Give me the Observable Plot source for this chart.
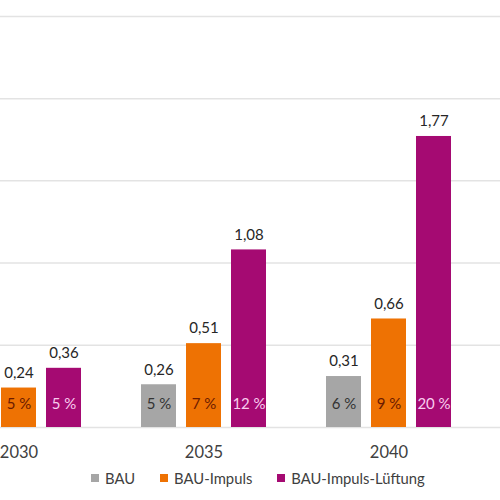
<!DOCTYPE html>
<html>
<head>
<meta charset="utf-8">
<script src="https://cdn.jsdelivr.net/npm/d3@7"></script>
<script src="https://cdn.jsdelivr.net/npm/@observablehq/plot@0.6"></script>
<style>
  html, body { margin: 0; padding: 0; background: #fff; }
  #wrap { position: relative; width: 500px; height: 500px; overflow: hidden; font-family: Lato, "Open Sans", sans-serif; }
  #wrap svg { position: absolute; left: 0; top: 0; }
  #legend { position: absolute; left: 91px; top: 469px; display: flex; align-items: center; font-size: 14.8px; color: #404040; }
  #legend .item { display: flex; align-items: center; margin-right: 25px; }
  #legend .sw { width: 8px; height: 8px; margin-right: 6px; }
</style>
</head>
<body>
<div id="wrap"></div>
<script>
// Years shown on the axis
const years = ["2030", "2035", "2040"];
// Scenario series
const series = ["BAU", "BAU-Impuls", "BAU-Impuls-Lüftung"];
const colors = ["#a6a6a6", "#ee7203", "#a50a72"];
const inkInside = ["#333333", "#6b1a00", "#f9cdef"];

// Values per series (index matches years; null = outside the visible area)
const bauValues = [null, 0.26, 0.31];
const impulsValues = [0.24, 0.51, 0.66];
const lueftungValues = [0.36, 1.08, 1.77];

// Share labels per series
const bauShare = [null, "5 %", "6 %"];
const impulsShare = ["5 %", "7 %", "9 %"];
const lueftungShare = ["5 %", "12 %", "20 %"];

const gridValues = [0, 0.5, 1, 1.5, 2, 2.5];

const valueSets = [bauValues, impulsValues, lueftungValues];
const shareSets = [bauShare, impulsShare, lueftungShare];

const fmt = v => v.toFixed(2).replace(".", ",");

const barW = 35, groupStep = 45, band = 185;
const inset = (band - barW) / 2;

const marks = [
  Plot.ruleY(gridValues, {stroke: "#e3e3e3", strokeWidth: 1.5})
];

series.forEach((s, k) => {
  const rows = years
    .map((year, i) => ({year, value: valueSets[k][i], share: shareSets[k][i]}))
    .filter(d => d.value != null);
  const dx = (k - 1) * groupStep;
  marks.push(
    Plot.barY(rows, {x: "year", y: "value", fill: colors[k], dx, insetLeft: inset, insetRight: inset}),
    Plot.text(rows, {x: "year", y: "value", text: d => fmt(d.value), dx, dy: -15, fill: "#262626", fontSize: 15}),
    Plot.text(rows, {x: "year", y: () => 0, text: "share", dx, dy: -23, fill: inkInside[k], fontSize: 15})
  );
});

marks.push(
  Plot.text(years, {x: d => d, y: () => 0, text: d => d, dy: 25, fill: "#404040", fontSize: 16.5})
);

const chart = Plot.plot({
  width: 500,
  height: 466,
  margin: 0,
  style: {fontFamily: "Lato, 'Open Sans', sans-serif", background: "transparent", overflow: "hidden"},
  x: {domain: years, range: [-74, 481], padding: 0, axis: null},
  y: {domain: [0, 2.597], range: [427, 0], axis: null},
  marks
});

const wrap = document.getElementById("wrap");
wrap.appendChild(chart);

const legend = document.createElement("div");
legend.id = "legend";
series.forEach((s, k) => {
  const item = document.createElement("div");
  item.className = "item";
  const sw = document.createElement("span");
  sw.className = "sw";
  sw.style.background = colors[k];
  const label = document.createElement("span");
  label.textContent = s;
  item.append(sw, label);
  legend.appendChild(item);
});
wrap.appendChild(legend);
</script>
</body>
</html>
